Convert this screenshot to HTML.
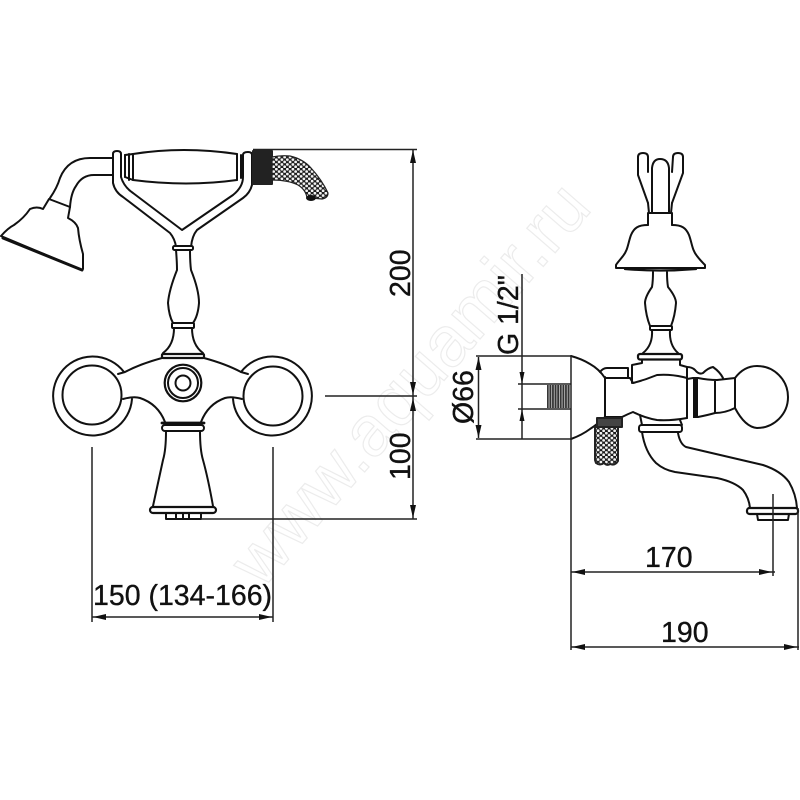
<!DOCTYPE html>
<html><head><meta charset="utf-8"><style>
html,body{margin:0;padding:0;background:#fff}
svg{display:block;filter:blur(0.35px)}
text{font-family:"Liberation Sans",sans-serif;fill:#111;font-size:28.500px;stroke:#111;stroke-width:0.35}
.l{fill:none;stroke:#111;stroke-width:2;stroke-linejoin:round;stroke-linecap:round}
.d{fill:none;stroke:#222;stroke-width:1.500}
.a{fill:#111}
</style></head><body>
<svg width="800" height="800" viewBox="0 0 800 800" xmlns="http://www.w3.org/2000/svg">
<defs>
<pattern id="dots" width="5.500" height="4.800" patternUnits="userSpaceOnUse">
<rect width="5.500" height="4.800" fill="#1c1c1c"/>
<circle cx="1.375" cy="1.200" r="1.400" fill="#f4f4f4"/><circle cx="4.125" cy="3.600" r="1.400" fill="#f4f4f4"/>
</pattern>
<pattern id="vh" width="2.600" height="4" patternUnits="userSpaceOnUse">
<rect width="2.600" height="4" fill="#333"/><rect width="0.900" height="4" fill="#bbb"/>
</pattern>
</defs>
<rect width="800" height="800" fill="#fff"/>
<text transform="translate(262,590) rotate(-49)" style="font-size:71px;fill:#fff;stroke:#ececec;stroke-width:1.200">www.aquamir.ru</text>

<g class="l">
<!-- shower head -->
<path d="M1,236 Q8,228 14,225 Q24,218 30,209 Q37,206 43,209 L49,199 L70,207 L68,218 Q76,222 78,228 Q79,240 83,254 L83,269 L82,270 Z" fill="#fff"/>
<path d="M3,238 L82,270" stroke-width="3"/>
<path d="M50,198 Q57,188 60,178 Q68,158 90,158 L113,158"/>
<path d="M70,207 Q71,193 76,186 Q82,175 94,175 L113,175"/>
<!-- fork -->
<path d="M113,158 L113,154 Q113,151 117,151 Q121,151 121,154 L121,177 Q124,187 133,193 L182,230 L233,195 Q243,187 243,177 L243,155 Q243,152 248,152 Q252,152 252,155 L252,185 Q250,193 243,198 L197,230 Q192,236 191,247"/>
<path d="M113,158 L113,183 Q115,192 123,197 L170,233 Q175,239 176,247"/>
<!-- handle -->
<path d="M133,154 Q183,146 237,154 M133,180 Q187,187 237,180"/>
<path d="M133,154 L133,180 M125,155 L125,177 M129,154 L129,180 M237,154 L237,180 M241,155 L241,178"/>
<path d="M125,155 L133,154 M125,177 L133,180"/>
<!-- hose -->
<rect x="253" y="151" width="19" height="33" fill="#222" stroke="#222"/>
<path d="M272,157 Q281,155 290,156 Q303,159 311,168 Q322,180 328,193 Q328,198 322,199 L311,198 L307,198 Q306,190 298,185 Q288,180 272,180 Z" fill="url(#dots)" stroke="#222" stroke-width="1.200"/>
<ellipse cx="311" cy="198" rx="5" ry="3" fill="#111" stroke="none"/>
<!-- upper column front -->
<rect x="173" y="246" width="20" height="4" rx="1.500" fill="#fff"/>
<path d="M176,250 Q177,262 177,270 Q169,290 168,303 Q169,316 173,323"/>
<path d="M190,250 Q190,262 191,270 Q199,290 199,303 Q198,316 193,323"/>
<rect x="172" y="323" width="22" height="5" rx="1" fill="#fff"/>
<path d="M174,328 Q174,345 163,353 M192,328 Q192,345 203,353"/>
<rect x="162" y="354" width="42" height="4" rx="1" fill="#fff" stroke-width="2.200"/>
<!-- body front -->
<circle cx="92" cy="395" r="29.500"/>
<circle cx="273" cy="396" r="29.500"/>
<path d="M124,372 A39.500,39.500 0 1 0 132,399"/>
<path d="M241,372 A39.500,39.500 0 1 1 233,399"/>
<path d="M162,358 Q140,364 125,372 L118,374"/>
<path d="M204,358 Q226,364 241,372 L248,374"/>
<path d="M123,399 Q134,396 140,398 Q158,404 165,422"/>
<path d="M242,399 Q231,396 225,398 Q208,404 201,422"/>
<circle cx="183" cy="383" r="18.300" stroke-width="2.200"/>
<circle cx="183" cy="383" r="15"/>
<circle cx="183" cy="383" r="7.500"/>
<path d="M162,423 L204,423" stroke-width="2.800"/>
<rect x="162" y="425" width="42" height="6" rx="3" fill="#fff"/>
<path d="M166,431 Q166,450 163,460 Q159,478 153,506"/>
<path d="M200,431 Q200,450 203,460 Q208,478 213,506"/>
<rect x="150" y="507" width="66" height="6" rx="3" fill="#fff" stroke-width="2.200"/>
<path d="M166,513 V519 H201 V513 M176,514 V519 M183,514 V519 M189,514 V519"/>

<!-- side view: top -->
<path d="M648,203 L638,175 L638,157 Q638,153 643,153 Q648,153 648,157 L648,172 M673,157 Q673,153 678,153 Q683,153 683,157 L683,173 L672,203"/>
<path d="M673,157 L672,172 M652,212 L652,168 Q653,159 660,159 Q668,159 669,168 L669,212"/>
<path d="M648,203 L649,213 M672,203 L671,213"/>
<path d="M648,213 H672 M648,213 V225 M672,213 V225"/>
<path d="M648,225 C638,225 634,228 631,235 C628,243 628,250 623,256 C620,260 617,263 616,265 L616,268 H705 L705,265 C703,263 700,260 697,256 C692,250 692,243 689,235 C686,228 682,225 672,225"/>
<path d="M625,269 Q660,272 696,269" stroke-width="2.200"/>
<path d="M653,272 Q653,281 652,287 Q645,297 645,303 Q646,316 650,326"/>
<path d="M667,272 Q667,281 668,287 Q676,297 676,303 Q675,316 671,326"/>
<rect x="650" y="326" width="22" height="4" rx="1" fill="#fff"/>
<path d="M652,330 Q653,345 643,353 M670,330 Q669,345 678,353"/>
<rect x="638" y="354" width="44" height="5.500" rx="2" fill="#fff" stroke-width="2.200"/>
<!-- side body -->
<path d="M642,360 V363 L632,365 V383 M680,360 V365 L687,367 V418"/>
<path d="M600,372 Q603,368 607,368 H628 V378"/>
<path d="M605,378 H630 L633,383 Q645,380 657,375 Q670,374 683,377 L687,378"/>
<path d="M605,377 V417 H622 Q628,414 633,412 Q645,418 657,420 Q670,421 687,418"/>
<path d="M687,367 Q692,367 695,370 Q699,375 703,373 Q708,368 713,367 Q720,372 723,378"/>
<rect x="693" y="377" width="5" height="41" fill="#111" stroke="none"/>
<path d="M687,379 L693,378 M698,378 Q708,380 717,380 L735,378 M715,380 V413 M735,378 V408 M698,417 Q708,415 715,413 Q725,413 735,408"/>
<path d="M735,378 Q744,366 757,366 A31,31 0 1 1 757,428 Q745,427 735,408"/>
<path d="M571,356 Q582,359 590,364 Q599,369 605,378 M571,439 Q582,435 590,429 Q598,424 605,417"/>
<!-- shank -->
<rect x="597" y="418" width="25" height="9" fill="#444" stroke="#222"/>
<path d="M595,427 H618 V461 Q615,466 610,464 Q607,466 604,463 Q600,466 596,463 L595,460 Z" fill="url(#dots)" stroke="#222"/>
<!-- spout -->
<path d="M640,415 L642,425 M680,420 L682,425"/>
<rect x="639" y="425" width="43" height="7" rx="2.500" fill="#fff"/>
<path d="M642,432 Q645,452 656,463 Q664,470 675,472 L717,478 Q735,482 743,490 Q749,498 750,508"/>
<path d="M678,433 Q680,444 686,447 L763,465 Q781,471 789,482 Q796,494 797,508"/>
<rect x="747" y="508" width="51" height="6" rx="2.500" fill="#fff" stroke-width="2.200"/>
<path d="M757,514 L758,520 H788 L789,514"/>
</g>

<!-- dimensions -->
<g class="d">
<path d="M253,149.500H417 M325,396H417 M201,519H417 M413,150V519"/>
<path d="M92,447V622 M273,447V622 M92,617H273"/>
<path d="M476,356H572 M476,439H572 M478.500,357V438 M522,274V439 M518,384H571 M518,409H571"/>
<path d="M571,356V650 M571,572H775 M571,647H799 M773,494V576 M798,508V650"/>
</g>
<rect x="547" y="385" width="24" height="23" fill="url(#vh)"/>
<g class="a">
<path d="M413,150l-3,13h6zM413,395l-3,-13h6zM413,398l-3,13h6zM413,518l-3,-13h6z"/>
<path d="M93,617l13,-3v6zM272,617l-13,-3v6z"/>
<path d="M478.500,357l-3,13h6zM478.500,438l-3,-13h6z"/>
<path d="M522,384l-2.500,-12h5zM522,409l-2.500,12h5z"/>
<path d="M572,572l13,-3v6zM772,572l-13,-3v6zM572,647l13,-3v6zM797,647l-13,-3v6z"/>
</g>

<text x="93" y="605">150 (134-166)</text>
<text x="645" y="567">170</text>
<text x="661" y="642">190</text>
<text transform="translate(410,297) rotate(-90)">200</text>
<text transform="translate(410,480) rotate(-90)">100</text>
<text transform="translate(473,424) rotate(-90)">Ø66</text>
<text transform="translate(518,355) rotate(-90)">G 1/2"</text>
</svg>
</body></html>
